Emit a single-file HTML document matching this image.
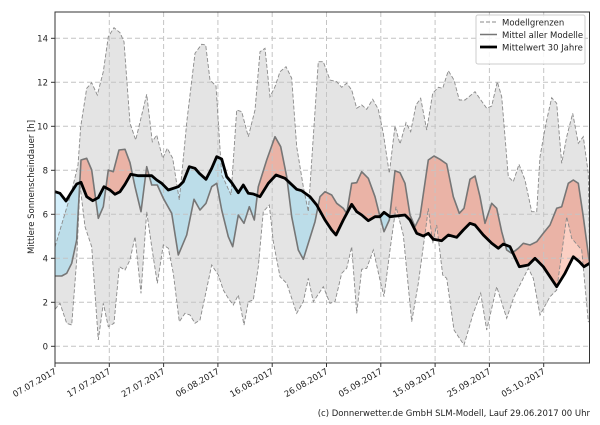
<!DOCTYPE html>
<html><head><meta charset="utf-8"><style>
body{margin:0;background:#fff;width:600px;height:420px;overflow:hidden}
text{font-family:"DejaVu Sans","Liberation Sans",sans-serif;fill:#222}
</style></head><body>
<svg width="600" height="420" viewBox="0 0 600 420" xmlns="http://www.w3.org/2000/svg">
<defs>
<clipPath id="plot"><rect x="55" y="12" width="534.5" height="351"/></clipPath>
<clipPath id="aboveB"><polygon points="55,0 55,191.7 60,193.3 66,201 71.7,191.7 76.7,184 81,182.3 86.7,196.7 92.7,200.7 98.3,197.7 104,186.7 110,190 115,194.3 120,191.7 125,184.3 130.7,174.3 138.3,175.7 151.7,175.7 156.7,180 161.7,183.3 168.3,190 178.3,186.7 183.3,181.7 189.3,166.7 195,168.3 199.3,173.3 206,179.3 211.7,168.3 216.7,156.7 221.7,159 226.7,176.7 231.7,182.7 238.3,192.7 243.3,185 248.3,193.3 253.3,194 260,196.7 268.3,183.3 276,175 285,178.3 296.7,189.3 301.7,190.7 310,196.7 316.7,205 325,220 331.7,230 336,235 343.3,220 351.7,204.3 356.7,211.7 361.7,215 368.3,220.7 375,216.7 380,216.7 384,212.3 390,216.7 405,215 410,220 416.7,233.3 423.3,236 428.3,233.3 433.3,239.3 441.7,240.7 448.3,235 456.7,237.3 463.3,230 470,223.3 475,225 483.3,235 491.7,243.3 498.3,248.3 503.3,244 510,246.7 519.3,266.7 528.3,265 535,258.3 543.3,266.7 550,276.7 556.7,286.7 565,273.3 573.3,256.7 579.3,261.7 584,266.7 589.5,263.3 589.5,0"/></clipPath>
<clipPath id="belowB"><polygon points="55,420 55,191.7 60,193.3 66,201 71.7,191.7 76.7,184 81,182.3 86.7,196.7 92.7,200.7 98.3,197.7 104,186.7 110,190 115,194.3 120,191.7 125,184.3 130.7,174.3 138.3,175.7 151.7,175.7 156.7,180 161.7,183.3 168.3,190 178.3,186.7 183.3,181.7 189.3,166.7 195,168.3 199.3,173.3 206,179.3 211.7,168.3 216.7,156.7 221.7,159 226.7,176.7 231.7,182.7 238.3,192.7 243.3,185 248.3,193.3 253.3,194 260,196.7 268.3,183.3 276,175 285,178.3 296.7,189.3 301.7,190.7 310,196.7 316.7,205 325,220 331.7,230 336,235 343.3,220 351.7,204.3 356.7,211.7 361.7,215 368.3,220.7 375,216.7 380,216.7 384,212.3 390,216.7 405,215 410,220 416.7,233.3 423.3,236 428.3,233.3 433.3,239.3 441.7,240.7 448.3,235 456.7,237.3 463.3,230 470,223.3 475,225 483.3,235 491.7,243.3 498.3,248.3 503.3,244 510,246.7 519.3,266.7 528.3,265 535,258.3 543.3,266.7 550,276.7 556.7,286.7 565,273.3 573.3,256.7 579.3,261.7 584,266.7 589.5,263.3 589.5,420"/></clipPath>
<clipPath id="aboveL"><polygon points="55,0 55,309.3 60,303.3 66.7,323.3 71.7,325 76.7,260 80,185 85,226.7 91.7,246.7 98.3,340 103.3,303.3 108.3,326.7 114,323.3 119.3,266.7 125,270 130,260 135,236.7 141,293.3 146.7,211.7 151.7,246.7 157.3,283.3 163.3,245 168.3,248.3 173.3,273.3 179.3,321.7 185,313.3 190,315 195,323.3 200,320 205,296.7 211.7,265 218.3,275 223.3,290 228.3,298.3 233.3,305 238.3,295 244,325 248.3,301.7 253.3,300 258.3,266.7 263.3,211.7 269.3,205 273.3,241.7 280,276.7 286.7,283.3 296.7,313.3 303.3,301.7 308.3,278.3 313.3,301.7 323.3,286.7 330,303.3 335,301.7 341.7,273.3 346.7,268.3 351.7,246.7 356.7,313.3 361.7,269.3 366.7,268.3 373.3,250 380,280 384,296.7 390,250 396,206.7 403.3,235 411.7,321.7 418.3,283.3 426,226.7 428.3,208.3 432.7,243.3 436.7,225 442.7,275 446.7,278.3 454,330 464,345 473.3,313.3 480.7,293.3 486.7,330 496.7,286.7 506.7,318.3 514,296.7 528.3,268.3 533.3,278.3 540,315 550,296.7 556.7,290 566.7,216.7 571.7,238.3 581.7,250 588.3,321.7 589.5,322 589.5,0"/></clipPath>
</defs>

<g clip-path="url(#plot)">
<g clip-path="url(#aboveL)">
<polygon fill="#e4e4e4" points="55,420 55,247 60,230 66,210 72,190 78,165 80.7,126.7 86.7,88.3 91.7,82.7 97.3,95 103.3,71.7 108.3,36.7 114,27.7 120,32.7 124,41.7 130,123.3 135.7,140 146.7,94.3 152.3,141.7 156.7,135 162.7,158.3 167.3,148.3 172.7,158.3 179.3,200 187,120 195,53.3 201.7,44.3 205.7,45 210,80 216,86 221.7,175 225,181.7 231,195 236.7,110 241.7,111.7 248.3,136.7 255,110 260,51.7 265,48.3 270,96.7 275,86.7 280,71.7 286,66.7 291.7,78.3 296.7,146.7 303.3,186.7 308.3,211.7 318.3,61.7 323.3,61.7 330,80 336.7,81.7 341.7,87.3 346.7,83.3 351.7,90 356.7,108.3 361.7,105 366.7,109.3 372.7,99.3 378.3,109.3 383.3,133.3 389.3,173.3 395,126 400,144 406,122.7 410.7,131.7 416,105 420.7,98.3 426.7,130 432.7,93.3 438.3,87.3 442.7,88.3 448.3,70.7 454,80 459.3,100 465,100 475,91.7 486.7,108.3 491.7,106 497.3,81.7 501.7,96.7 508.3,176.7 513.3,181.7 519,164.3 525,180 531.7,211.7 536.7,211.7 540,156.7 546,123.3 551.7,97.7 556.7,103.3 561.7,163.3 566.7,136.7 572.7,113.3 578.3,143.3 583.3,136.7 588.3,173.3 589.5,250 589.5,420"/>
</g>
<!-- red: mean above 30yr -->
<g clip-path="url(#aboveB)">
<polygon fill="#eab3a6" points="55,420 55,276 61.7,276 66.7,273.3 71.7,263.3 76.7,240 81,160 86.7,158.3 91.7,170 98.3,218.3 103.3,206.7 108.3,170 113.3,171.7 119,150 125,149.3 130,162.7 135,186.7 141,211.7 146.7,166.7 151.7,185 157.3,185 163.3,198.3 171.7,213.3 178.3,255 186.7,235 194,199.3 200,210 206,203.3 211.7,186.7 216.7,183.3 221.7,210 228.3,236.7 232.7,246.7 238.3,215 244,223.3 249.3,206.7 254.3,220 258.3,186.7 266.7,160 275,136.7 280.7,146.7 286.7,176.7 291.7,216.7 298.3,250 303.3,259.3 309.3,240 315,221.7 320,196.7 325,191.7 331.7,195 336.7,203.3 343.3,208.3 346.7,213.3 351.7,183.3 356.7,182.7 361.7,171.7 368.3,178.3 375,196.7 380,216.7 384,231.7 389.3,220 395,170.7 400,172.7 405,183.3 410,215 415,226.7 420,216.7 428.3,160 434,156 440,159.3 446.7,164 453.3,196.7 459.3,213.3 464,208.3 470,179.3 475,176 480,196.7 485,223.3 491.7,203.3 496.7,208.3 501.7,231.7 506.7,250 511.7,253.3 518.3,248.3 523.3,243.3 530,245 536.7,241.7 543.3,233.3 550,225 556.7,208.3 561.7,206.7 568.3,183.3 573.3,180 578.3,183.3 583.3,216.7 589.5,263.3 589.5,420"/>
</g>
<!-- blue: mean below 30yr -->
<g clip-path="url(#belowB)">
<polygon fill="#bcdde9" points="55,0 55,276 61.7,276 66.7,273.3 71.7,263.3 76.7,240 81,160 86.7,158.3 91.7,170 98.3,218.3 103.3,206.7 108.3,170 113.3,171.7 119,150 125,149.3 130,162.7 135,186.7 141,211.7 146.7,166.7 151.7,185 157.3,185 163.3,198.3 171.7,213.3 178.3,255 186.7,235 194,199.3 200,210 206,203.3 211.7,186.7 216.7,183.3 221.7,210 228.3,236.7 232.7,246.7 238.3,215 244,223.3 249.3,206.7 254.3,220 258.3,186.7 266.7,160 275,136.7 280.7,146.7 286.7,176.7 291.7,216.7 298.3,250 303.3,259.3 309.3,240 315,221.7 320,196.7 325,191.7 331.7,195 336.7,203.3 343.3,208.3 346.7,213.3 351.7,183.3 356.7,182.7 361.7,171.7 368.3,178.3 375,196.7 380,216.7 384,231.7 389.3,220 395,170.7 400,172.7 405,183.3 410,215 415,226.7 420,216.7 428.3,160 434,156 440,159.3 446.7,164 453.3,196.7 459.3,213.3 464,208.3 470,179.3 475,176 480,196.7 485,223.3 491.7,203.3 496.7,208.3 501.7,231.7 506.7,250 511.7,253.3 518.3,248.3 523.3,243.3 530,245 536.7,241.7 543.3,233.3 550,225 556.7,208.3 561.7,206.7 568.3,183.3 573.3,180 578.3,183.3 583.3,216.7 589.5,263.3 589.5,0"/>
</g>
<!-- light blue: upper below 30yr -->
<g clip-path="url(#belowB)">
<polygon fill="#d4effb" points="55,0 55,247 60,230 66,210 72,190 78,165 80.7,126.7 86.7,88.3 91.7,82.7 97.3,95 103.3,71.7 108.3,36.7 114,27.7 120,32.7 124,41.7 130,123.3 135.7,140 146.7,94.3 152.3,141.7 156.7,135 162.7,158.3 167.3,148.3 172.7,158.3 179.3,200 187,120 195,53.3 201.7,44.3 205.7,45 210,80 216,86 221.7,175 225,181.7 231,195 236.7,110 241.7,111.7 248.3,136.7 255,110 260,51.7 265,48.3 270,96.7 275,86.7 280,71.7 286,66.7 291.7,78.3 296.7,146.7 303.3,186.7 308.3,211.7 318.3,61.7 323.3,61.7 330,80 336.7,81.7 341.7,87.3 346.7,83.3 351.7,90 356.7,108.3 361.7,105 366.7,109.3 372.7,99.3 378.3,109.3 383.3,133.3 389.3,173.3 395,126 400,144 406,122.7 410.7,131.7 416,105 420.7,98.3 426.7,130 432.7,93.3 438.3,87.3 442.7,88.3 448.3,70.7 454,80 459.3,100 465,100 475,91.7 486.7,108.3 491.7,106 497.3,81.7 501.7,96.7 508.3,176.7 513.3,181.7 519,164.3 525,180 531.7,211.7 536.7,211.7 540,156.7 546,123.3 551.7,97.7 556.7,103.3 561.7,163.3 566.7,136.7 572.7,113.3 578.3,143.3 583.3,136.7 588.3,173.3 589.5,250 589.5,0"/>
</g>
<!-- light red: lower above 30yr -->
<g clip-path="url(#aboveB)">
<polygon fill="#fbcfc3" points="55,420 55,309.3 60,303.3 66.7,323.3 71.7,325 76.7,260 80,185 85,226.7 91.7,246.7 98.3,340 103.3,303.3 108.3,326.7 114,323.3 119.3,266.7 125,270 130,260 135,236.7 141,293.3 146.7,211.7 151.7,246.7 157.3,283.3 163.3,245 168.3,248.3 173.3,273.3 179.3,321.7 185,313.3 190,315 195,323.3 200,320 205,296.7 211.7,265 218.3,275 223.3,290 228.3,298.3 233.3,305 238.3,295 244,325 248.3,301.7 253.3,300 258.3,266.7 263.3,211.7 269.3,205 273.3,241.7 280,276.7 286.7,283.3 296.7,313.3 303.3,301.7 308.3,278.3 313.3,301.7 323.3,286.7 330,303.3 335,301.7 341.7,273.3 346.7,268.3 351.7,246.7 356.7,313.3 361.7,269.3 366.7,268.3 373.3,250 380,280 384,296.7 390,250 396,206.7 403.3,235 411.7,321.7 418.3,283.3 426,226.7 428.3,208.3 432.7,243.3 436.7,225 442.7,275 446.7,278.3 454,330 464,345 473.3,313.3 480.7,293.3 486.7,330 496.7,286.7 506.7,318.3 514,296.7 528.3,268.3 533.3,278.3 540,315 550,296.7 556.7,290 566.7,216.7 571.7,238.3 581.7,250 588.3,321.7 589.5,322 589.5,420"/>
</g>

<g stroke="#c4c4c4" stroke-width="1" stroke-dasharray="5,3">
<line x1="55" x2="590" y1="346.3" y2="346.3"/><line x1="55" x2="590" y1="302.3" y2="302.3"/>
<line x1="55" x2="590" y1="258.3" y2="258.3"/><line x1="55" x2="590" y1="214.3" y2="214.3"/>
<line x1="55" x2="590" y1="170.3" y2="170.3"/><line x1="55" x2="590" y1="126.3" y2="126.3"/>
<line x1="55" x2="590" y1="82.3" y2="82.3"/><line x1="55" x2="590" y1="38.3" y2="38.3"/>
<line y1="12" y2="363" x1="109.3" x2="109.3"/><line y1="12" y2="363" x1="163.6" x2="163.6"/>
<line y1="12" y2="363" x1="217.9" x2="217.9"/><line y1="12" y2="363" x1="272.2" x2="272.2"/>
<line y1="12" y2="363" x1="326.5" x2="326.5"/><line y1="12" y2="363" x1="380.8" x2="380.8"/>
<line y1="12" y2="363" x1="435.1" x2="435.1"/><line y1="12" y2="363" x1="489.4" x2="489.4"/>
<line y1="12" y2="363" x1="543.7" x2="543.7"/>
</g>

<g fill="none" stroke="#8a8a8a" stroke-width="0.9" stroke-dasharray="4,2">
<polyline points="55,247 60,230 66,210 72,190 78,165 80.7,126.7 86.7,88.3 91.7,82.7 97.3,95 103.3,71.7 108.3,36.7 114,27.7 120,32.7 124,41.7 130,123.3 135.7,140 146.7,94.3 152.3,141.7 156.7,135 162.7,158.3 167.3,148.3 172.7,158.3 179.3,200 187,120 195,53.3 201.7,44.3 205.7,45 210,80 216,86 221.7,175 225,181.7 231,195 236.7,110 241.7,111.7 248.3,136.7 255,110 260,51.7 265,48.3 270,96.7 275,86.7 280,71.7 286,66.7 291.7,78.3 296.7,146.7 303.3,186.7 308.3,211.7 318.3,61.7 323.3,61.7 330,80 336.7,81.7 341.7,87.3 346.7,83.3 351.7,90 356.7,108.3 361.7,105 366.7,109.3 372.7,99.3 378.3,109.3 383.3,133.3 389.3,173.3 395,126 400,144 406,122.7 410.7,131.7 416,105 420.7,98.3 426.7,130 432.7,93.3 438.3,87.3 442.7,88.3 448.3,70.7 454,80 459.3,100 465,100 475,91.7 486.7,108.3 491.7,106 497.3,81.7 501.7,96.7 508.3,176.7 513.3,181.7 519,164.3 525,180 531.7,211.7 536.7,211.7 540,156.7 546,123.3 551.7,97.7 556.7,103.3 561.7,163.3 566.7,136.7 572.7,113.3 578.3,143.3 583.3,136.7 588.3,173.3 589.5,250"/>
<polyline points="55,309.3 60,303.3 66.7,323.3 71.7,325 76.7,260 80,185 85,226.7 91.7,246.7 98.3,340 103.3,303.3 108.3,326.7 114,323.3 119.3,266.7 125,270 130,260 135,236.7 141,293.3 146.7,211.7 151.7,246.7 157.3,283.3 163.3,245 168.3,248.3 173.3,273.3 179.3,321.7 185,313.3 190,315 195,323.3 200,320 205,296.7 211.7,265 218.3,275 223.3,290 228.3,298.3 233.3,305 238.3,295 244,325 248.3,301.7 253.3,300 258.3,266.7 263.3,211.7 269.3,205 273.3,241.7 280,276.7 286.7,283.3 296.7,313.3 303.3,301.7 308.3,278.3 313.3,301.7 323.3,286.7 330,303.3 335,301.7 341.7,273.3 346.7,268.3 351.7,246.7 356.7,313.3 361.7,269.3 366.7,268.3 373.3,250 380,280 384,296.7 390,250 396,206.7 403.3,235 411.7,321.7 418.3,283.3 426,226.7 428.3,208.3 432.7,243.3 436.7,225 442.7,275 446.7,278.3 454,330 464,345 473.3,313.3 480.7,293.3 486.7,330 496.7,286.7 506.7,318.3 514,296.7 528.3,268.3 533.3,278.3 540,315 550,296.7 556.7,290 566.7,216.7 571.7,238.3 581.7,250 588.3,321.7 589.5,322"/>
</g>
<polyline fill="none" stroke="#767676" stroke-width="1.6" stroke-linejoin="round" points="55,276 61.7,276 66.7,273.3 71.7,263.3 76.7,240 81,160 86.7,158.3 91.7,170 98.3,218.3 103.3,206.7 108.3,170 113.3,171.7 119,150 125,149.3 130,162.7 135,186.7 141,211.7 146.7,166.7 151.7,185 157.3,185 163.3,198.3 171.7,213.3 178.3,255 186.7,235 194,199.3 200,210 206,203.3 211.7,186.7 216.7,183.3 221.7,210 228.3,236.7 232.7,246.7 238.3,215 244,223.3 249.3,206.7 254.3,220 258.3,186.7 266.7,160 275,136.7 280.7,146.7 286.7,176.7 291.7,216.7 298.3,250 303.3,259.3 309.3,240 315,221.7 320,196.7 325,191.7 331.7,195 336.7,203.3 343.3,208.3 346.7,213.3 351.7,183.3 356.7,182.7 361.7,171.7 368.3,178.3 375,196.7 380,216.7 384,231.7 389.3,220 395,170.7 400,172.7 405,183.3 410,215 415,226.7 420,216.7 428.3,160 434,156 440,159.3 446.7,164 453.3,196.7 459.3,213.3 464,208.3 470,179.3 475,176 480,196.7 485,223.3 491.7,203.3 496.7,208.3 501.7,231.7 506.7,250 511.7,253.3 518.3,248.3 523.3,243.3 530,245 536.7,241.7 543.3,233.3 550,225 556.7,208.3 561.7,206.7 568.3,183.3 573.3,180 578.3,183.3 583.3,216.7 589.5,263.3"/>
<polyline fill="none" stroke="#000" stroke-width="2.8" stroke-linejoin="round" points="55,191.7 60,193.3 66,201 71.7,191.7 76.7,184 81,182.3 86.7,196.7 92.7,200.7 98.3,197.7 104,186.7 110,190 115,194.3 120,191.7 125,184.3 130.7,174.3 138.3,175.7 151.7,175.7 156.7,180 161.7,183.3 168.3,190 178.3,186.7 183.3,181.7 189.3,166.7 195,168.3 199.3,173.3 206,179.3 211.7,168.3 216.7,156.7 221.7,159 226.7,176.7 231.7,182.7 238.3,192.7 243.3,185 248.3,193.3 253.3,194 260,196.7 268.3,183.3 276,175 285,178.3 296.7,189.3 301.7,190.7 310,196.7 316.7,205 325,220 331.7,230 336,235 343.3,220 351.7,204.3 356.7,211.7 361.7,215 368.3,220.7 375,216.7 380,216.7 384,212.3 390,216.7 405,215 410,220 416.7,233.3 423.3,236 428.3,233.3 433.3,239.3 441.7,240.7 448.3,235 456.7,237.3 463.3,230 470,223.3 475,225 483.3,235 491.7,243.3 498.3,248.3 503.3,244 510,246.7 519.3,266.7 528.3,265 535,258.3 543.3,266.7 550,276.7 556.7,286.7 565,273.3 573.3,256.7 579.3,261.7 584,266.7 589.5,263.3"/>
</g>

<rect x="55" y="12" width="534.5" height="351" fill="none" stroke="#333" stroke-width="1"/>
<g stroke="#333"><line x1="51" x2="55" y1="346.3" y2="346.3"/><line x1="51" x2="55" y1="302.3" y2="302.3"/><line x1="51" x2="55" y1="258.3" y2="258.3"/><line x1="51" x2="55" y1="214.3" y2="214.3"/><line x1="51" x2="55" y1="170.3" y2="170.3"/><line x1="51" x2="55" y1="126.3" y2="126.3"/><line x1="51" x2="55" y1="82.3" y2="82.3"/><line x1="51" x2="55" y1="38.3" y2="38.3"/>
<line y1="363" y2="367" x1="55" x2="55"/><line y1="363" y2="367" x1="109.3" x2="109.3"/><line y1="363" y2="367" x1="163.6" x2="163.6"/><line y1="363" y2="367" x1="217.9" x2="217.9"/><line y1="363" y2="367" x1="272.2" x2="272.2"/><line y1="363" y2="367" x1="326.5" x2="326.5"/><line y1="363" y2="367" x1="380.8" x2="380.8"/><line y1="363" y2="367" x1="435.1" x2="435.1"/><line y1="363" y2="367" x1="489.4" x2="489.4"/><line y1="363" y2="367" x1="543.7" x2="543.7"/></g>
<g font-size="8.5" text-anchor="end">
<text x="48" y="349.5">0</text><text x="48" y="305.5">2</text><text x="48" y="261.5">4</text><text x="48" y="217.5">6</text><text x="48" y="173.5">8</text><text x="48" y="129.5">10</text><text x="48" y="85.5">12</text><text x="48" y="41.5">14</text>
</g>
<g font-size="8.5" text-anchor="end">
<text transform="translate(57,373) rotate(-30)">07.07.2017</text>
<text transform="translate(111.3,373) rotate(-30)">17.07.2017</text>
<text transform="translate(165.6,373) rotate(-30)">27.07.2017</text>
<text transform="translate(219.9,373) rotate(-30)">06.08.2017</text>
<text transform="translate(274.2,373) rotate(-30)">16.08.2017</text>
<text transform="translate(328.5,373) rotate(-30)">26.08.2017</text>
<text transform="translate(382.8,373) rotate(-30)">05.09.2017</text>
<text transform="translate(437.1,373) rotate(-30)">15.09.2017</text>
<text transform="translate(491.4,373) rotate(-30)">25.09.2017</text>
<text transform="translate(545.7,373) rotate(-30)">05.10.2017</text>
</g>
<text transform="translate(34,187) rotate(-90)" font-size="8.5" text-anchor="middle">Mittlere Sonnenscheindauer [h]</text>
<text x="590" y="416" font-size="8.5" text-anchor="end">(c) Donnerwetter.de GmbH SLM-Modell, Lauf 29.06.2017 00 Uhr</text>

<rect x="476" y="15" width="109" height="49" rx="2" fill="#fff" fill-opacity="0.85" stroke="#ccc"/>
<line x1="480" x2="497" y1="22" y2="22" stroke="#8a8a8a" stroke-dasharray="4,2"/>
<line x1="480" x2="497" y1="34.5" y2="34.5" stroke="#767676" stroke-width="1.6"/>
<line x1="480" x2="497" y1="47" y2="47" stroke="#000" stroke-width="2.8"/>
<g font-size="8.5"><text x="502" y="25.5">Modellgrenzen</text><text x="502" y="38">Mittel aller Modelle</text><text x="502" y="50.5">Mittelwert 30 Jahre</text></g>
</svg>
</body></html>
